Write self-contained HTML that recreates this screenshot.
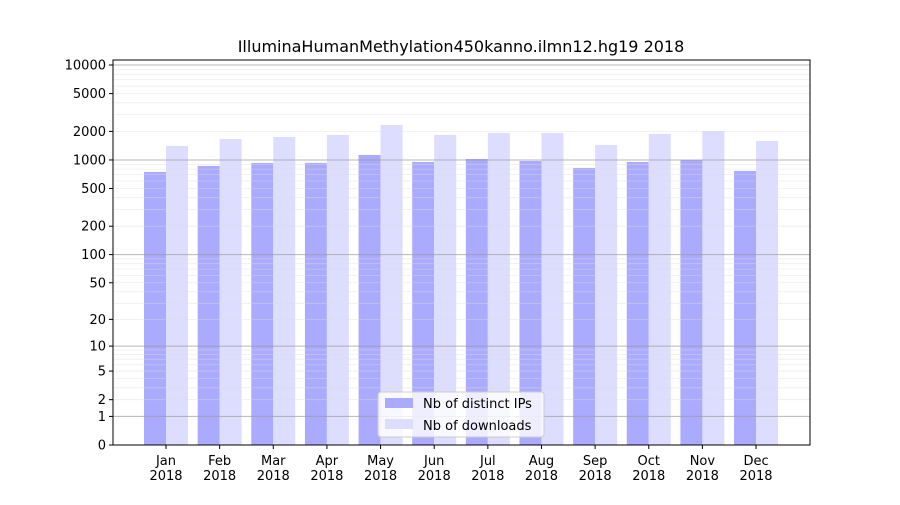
<!DOCTYPE html>
<html><head><meta charset="utf-8"><style>
body{margin:0;background:#fff;font-family:"Liberation Sans","DejaVu Sans",sans-serif;}
svg text{font-family:"DejaVu Sans","Liberation Sans",sans-serif;}
</style></head><body>
<svg id="chart" width="900" height="500" xmlns="http://www.w3.org/2000/svg">
<rect width="900" height="500" fill="#fff"/>
<text x="461" y="52" font-size="16" text-anchor="middle">IlluminaHumanMethylation450kanno.ilmn12.hg19 2018</text>
<g id="bars"></g><g id="grid"></g><g id="axes"></g>
</svg>
<script>
const months=["Jan","Feb","Mar","Apr","May","Jun","Jul","Aug","Sep","Oct","Nov","Dec"];
const distinctIPs=[748,865,930,930,1129,953,1025,976,824,953,1000,766];
const downloads=[1404,1663,1746,1834,2336,1834,1924,1924,1438,1880,2019,1585];
const yTicks=[0,1,2,5,10,20,50,100,200,500,1000,2000,5000,10000];
const NS="http://www.w3.org/2000/svg";
const L=113,R=810,T=60,B=445;
function y(v){return B-95*Math.log10(v+1);}
function xc(i){return 166+i*53.64;}
function mk(tag,attrs,parent){const e=document.createElementNS(NS,tag);for(const k in attrs)e.setAttribute(k,attrs[k]);parent.appendChild(e);return e;}
const grid=document.getElementById('grid'),bars=document.getElementById('bars'),axes=document.getElementById('axes');
for(let d=1;d<=10000;d*=10){for(let m=1;m<10;m++){const v=d*m;if(v>10000)break;const yy=y(v);if(yy<T)continue;
const ln=mk('line',{x1:L,x2:R,y1:yy,y2:yy,stroke:m===1?'#999999':'#dddddd','stroke-width':m===1?1:0.8,'stroke-opacity':m===1?0.7:0.5},grid);

}}
months.forEach((m,i)=>{
const r1=mk('rect',{x:xc(i)-22,y:y(distinctIPs[i]),width:22,height:B-y(distinctIPs[i]),fill:'#aaaaff'},bars);


const r2=mk('rect',{x:xc(i),y:y(downloads[i]),width:22,height:B-y(downloads[i]),fill:'#ddddff'},bars);


mk('line',{x1:xc(i),x2:xc(i),y1:B,y2:B+4,stroke:'#000'},axes);
const t=mk('text',{x:xc(i),y:B+20,'font-size':13,'text-anchor':'middle'},axes);t.textContent=m;


const t2=mk('text',{x:xc(i),y:B+35,'font-size':13,'text-anchor':'middle'},axes);t2.textContent='2018';


});
yTicks.forEach(v=>{const yy=y(v);
mk('line',{x1:L-4,x2:L,y1:yy,y2:yy,stroke:'#000'},axes);
const t=mk('text',{x:L-7,y:yy+4.5,'font-size':13,'text-anchor':'end'},axes);t.textContent=v;

});
const fr=mk('rect',{x:L,y:T,width:R-L,height:B-T,fill:'none',stroke:'#000','stroke-width':1},axes);


const lg=mk('g',{},axes);


mk('rect',{x:378,y:392,width:166,height:45,rx:3,fill:'#fff','fill-opacity':0.8,stroke:'#ccc'},lg);
mk('rect',{x:385,y:398,width:28,height:10,fill:'#aaaaff'},lg);
mk('rect',{x:385,y:419,width:28,height:10,fill:'#ddddff'},lg);
const l1=mk('text',{x:423,y:408,'font-size':13},lg);l1.textContent='Nb of distinct IPs';


const l2=mk('text',{x:423,y:430,'font-size':13},lg);l2.textContent='Nb of downloads';


</script>
</body></html>
